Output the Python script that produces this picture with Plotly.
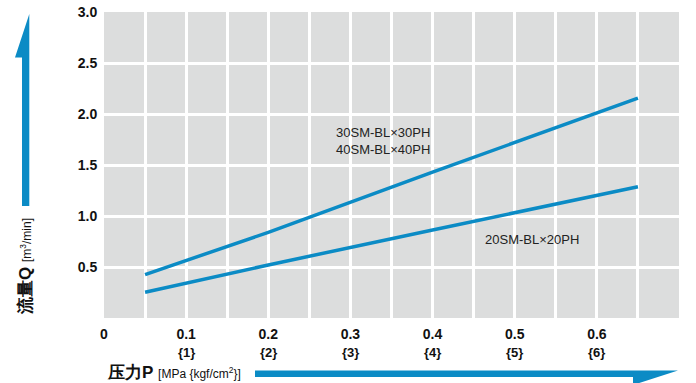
import plotly.graph_objects as go

# ---- data ----
pressure_upper = [0.05, 0.2, 0.4, 0.65]
flow_upper = [0.425, 0.84, 1.43, 2.155]
pressure_lower = [0.05, 0.2, 0.4, 0.65]
flow_lower = [0.252, 0.52, 0.863, 1.287]

x_tick_vals = [0, 0.1, 0.2, 0.3, 0.4, 0.5, 0.6]
x_tick_text = ["0", "0.1", "0.2", "0.3", "0.4", "0.5", "0.6"]
x_tick_sub = ["", "{1}", "{2}", "{3}", "{4}", "{5}", "{6}"]
y_tick_vals = [0.5, 1.0, 1.5, 2.0, 2.5, 3.0]
y_tick_text = ["0.5", "1.0", "1.5", "2.0", "2.5", "3.0"]

label_upper = ["30SM-BL×30PH", "40SM-BL×40PH"]
label_lower = "20SM-BL×20PH"

BLUE = "#0b8bc5"
GRAY = "#dcdddd"
W, H = 696, 383
L, R, T, B = 104, 17, 12, 65
PW, PH = W - L - R, H - T - B
FONT = "Liberation Sans, Arial, sans-serif"

def px(x):
    return (x - L) / PW

def py(y):
    return (H - B - y) / PH

fig = go.Figure()
fig.add_trace(go.Scatter(x=pressure_upper, y=flow_upper, mode="lines",
                         line=dict(color=BLUE, width=3.5), showlegend=False))
fig.add_trace(go.Scatter(x=pressure_lower, y=flow_lower, mode="lines",
                         line=dict(color=BLUE, width=3.5), showlegend=False))

annotations = []
# second row of x tick labels
for v, s in zip(x_tick_vals, x_tick_sub):
    if s:
        annotations.append(dict(x=v, y=py(352), xref="x", yref="paper", text="<b>" + s + "</b>",
                                showarrow=False, xanchor="center", yanchor="middle",
                                font=dict(family=FONT, size=13, color="#111")))
# series labels
annotations.append(dict(x=px(383), y=py(141), xref="paper", yref="paper",
                        text=label_upper[0] + "<br>" + label_upper[1], showarrow=False,
                        xanchor="center", yanchor="middle", align="left",
                        font=dict(family=FONT, size=13, color="#222")))
annotations.append(dict(x=px(532), y=py(239), xref="paper", yref="paper",
                        text=label_lower, showarrow=False,
                        xanchor="center", yanchor="middle",
                        font=dict(family=FONT, size=13, color="#222")))
# axis titles
annotations.append(dict(x=px(25), y=py(267), xref="paper", yref="paper",
                        text="<b>流量Q</b> <span style='font-size:12px'>[m<sup>3</sup>/min]</span>",
                        textangle=-90, showarrow=False, xanchor="center", yanchor="middle",
                        font=dict(family=FONT, size=17, color="#111")))
annotations.append(dict(x=px(105), y=py(372), xref="paper", yref="paper",
                        text="<b>压力P</b> <span style='font-size:12px'>[MPa {kgf/cm<sup>2</sup>}]</span>",
                        showarrow=False, xanchor="left", yanchor="middle",
                        font=dict(family=FONT, size=17, color="#111")))

def path(points):
    return "M " + " L ".join(f"{px(a):.5f},{py(b):.5f}" for a, b in points) + " Z"

shapes = [
    dict(type="path", xref="paper", yref="paper", line=dict(width=0), fillcolor=BLUE,
         path=path([(22, 206), (22, 57.5), (15, 57.5), (29.3, 14), (29.3, 206)])),
    dict(type="path", xref="paper", yref="paper", line=dict(width=0), fillcolor=BLUE,
         path=path([(255, 370.5), (678, 370.5), (633, 385), (633, 377), (255, 377)])),
]

fig.update_layout(
    template="none",
    width=W, height=H,
    margin=dict(l=L, r=R, t=T, b=B, pad=0),
    paper_bgcolor="white", plot_bgcolor=GRAY,
    annotations=annotations, shapes=shapes,
    font=dict(family=FONT, color="#111"),
    xaxis=dict(range=[0, 0.7], tickmode="array", tickvals=x_tick_vals,
               ticktext=["<b>" + t + "</b>" for t in x_tick_text], automargin=False,
               showgrid=True, gridcolor="white", gridwidth=2.5,
               minor=dict(tickmode="linear", tick0=0, dtick=0.05, showgrid=True, gridcolor="white", gridwidth=2.5),
               zeroline=False, showline=False, ticks="outside", ticklen=3, tickcolor="rgba(0,0,0,0)",
               tickfont=dict(family=FONT, size=14, color="#111")),
    yaxis=dict(range=[0, 3.0], tickmode="array", tickvals=y_tick_vals,
               ticktext=["<b>" + t + "</b>" for t in y_tick_text], automargin=False,
               showgrid=True, gridcolor="white", gridwidth=2.5,
               zeroline=False, showline=False, ticks="outside", ticklen=3, tickcolor="rgba(0,0,0,0)",
               tickfont=dict(family=FONT, size=14, color="#111")),
)

fig.write_html("out.html", config={"displayModeBar": False},
               post_script="document.body.style.margin='0';document.body.style.overflow='hidden';")
